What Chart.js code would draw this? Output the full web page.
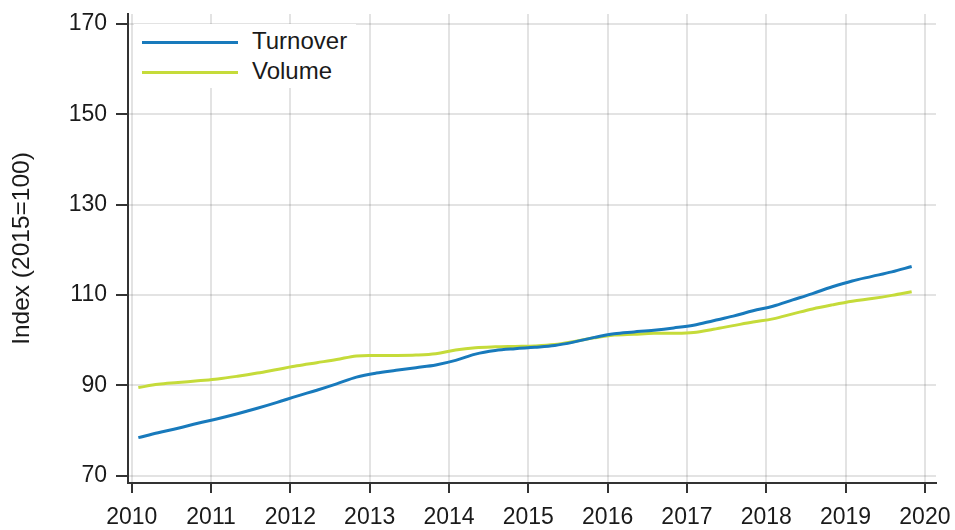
<!DOCTYPE html>
<html>
<head>
<meta charset="utf-8">
<script src="https://cdn.jsdelivr.net/npm/chart.js@4.4.1/dist/chart.umd.min.js"></script>
<style>
  body { margin: 0; background: #fff; }
  #wrap { position: relative; width: 955px; height: 530px; }
  #legend {
    position: absolute; left: 134px; top: 24px; width: 222px; height: 64px;
    background: #fff; font-family: "Liberation Sans", Arial, sans-serif; font-size: 24px; color: #1a1a1a;
  }
  .item { position: absolute; left: 8px; height: 30px; line-height: 30px; white-space: nowrap; }
  .item span.sw { display: inline-block; width: 96px; height: 3px; vertical-align: middle; margin-right: 14px; }
</style>
</head>
<body>
<div id="wrap">
  <canvas id="myChart" width="955" height="530"></canvas>
  <div id="legend"></div>
</div>
<script>
// quarterly data, 2010 Q1 .. 2019 Q4
var years = [2010, 2011, 2012, 2013, 2014, 2015, 2016, 2017, 2018, 2019];
var quarters = [1, 2, 3, 4];
var turnover = [
    78.4, 79.5, 80.5, 81.6,
    82.6, 83.7, 84.9, 86.2,
    87.6, 88.9, 90.3, 91.8,
    92.7, 93.3, 93.9, 94.5,
    95.5, 96.9, 97.7, 98.1,
    98.4, 98.8, 99.6, 100.6,
    101.4, 101.8, 102.2, 102.7,
    103.3, 104.3, 105.3, 106.5,
    107.5, 108.9, 110.3, 111.8,
    113.1, 114.1, 115.1, 116.3
];
var volume = [
    89.5, 90.2, 90.6, 91.0,
    91.4, 92.0, 92.7, 93.5,
    94.3, 95.0, 95.7, 96.5,
    96.6, 96.6, 96.7, 97.0,
    97.8, 98.3, 98.5, 98.6,
    98.7, 99.0, 99.7, 100.5,
    101.1, 101.3, 101.5, 101.5,
    101.7, 102.4, 103.2, 104.0,
    104.7, 105.8, 106.9, 107.8,
    108.6, 109.2, 109.9, 110.7
];
var xTicks = [2010, 2011, 2012, 2013, 2014, 2015, 2016, 2017, 2018, 2019, 2020];
var yTicks = [70, 90, 110, 130, 150, 170];
var seriesNames = ["Turnover", "Volume"];
var seriesColors = ["rgb(24,122,188)", "rgb(197,219,58)"];

var fontFam = "'Liberation Sans', Arial, sans-serif";
Chart.defaults.font.family = fontFam;
Chart.defaults.color = "#1a1a1a";

// x position of each quarter
var xs = [];
years.forEach(function (y) {
    quarters.forEach(function (q) {
        xs.push(y + (q - 1) / 4 + 1 / 12);
    });
});

function toPoints(arr) {
    return arr.map(function (v, i) { return { x: xs[i], y: v }; });
}

var allSeries = [turnover, volume];
var datasets = allSeries.map(function (arr, i) {
    return {
        label: seriesNames[i],
        data: toPoints(arr),
        borderColor: seriesColors[i],
        backgroundColor: seriesColors[i],
        borderWidth: 3,
        pointRadius: 0,
        tension: 0.35,
        fill: false
    };
});

var ctx = document.getElementById('myChart').getContext('2d');
var myChart = new Chart(ctx, {
    type: 'line',
    data: { datasets: datasets },
    options: {
        responsive: false,
        animation: false,
        layout: { padding: { top: 14, right: 19, left: 0, bottom: 0 } },
        plugins: { legend: { display: false }, tooltip: { enabled: false } },
        scales: {
            x: {
                type: 'linear',
                min: 2009.953,
                max: 2020.14,
                afterBuildTicks: function (scale) {
                    scale.ticks = xTicks.map(function (v) { return { value: v }; });
                },
                afterFit: function (scale) {
                    scale.height = 530 - 483;
                    scale.paddingLeft = 0;
                    scale.paddingRight = 0;
                },
                ticks: { font: { size: 23 }, color: "#1a1a1a", padding: 11, maxRotation: 0, autoSkip: false,
                    callback: function (v) { return String(v); } },
                grid: { color: "rgba(0,0,0,0.11)", lineWidth: 2, tickColor: "#333", tickLength: 10, tickWidth: 2 },
                border: { color: "#333", width: 2 }
            },
            y: {
                min: 68.36,
                max: 172.2,
                afterBuildTicks: function (scale) {
                    scale.ticks = yTicks.map(function (v) { return { value: v }; });
                },
                afterFit: function (scale) {
                    scale.width = 128;
                    scale.paddingTop = 0;
                    scale.paddingBottom = 0;
                },
                ticks: { font: { size: 23 }, color: "#1a1a1a", padding: 9 },
                grid: { color: "rgba(0,0,0,0.11)", lineWidth: 2, tickColor: "#333", tickLength: 12, tickWidth: 2 },
                border: { color: "#333", width: 2 },
                title: { display: true, text: "Index (2015=100)", font: { size: 24.5 }, color: "#1a1a1a", padding: { top: 8, bottom: 0 } }
            }
        }
    }
});

// legend inside the plot, top left
var legendEl = document.getElementById('legend');
seriesNames.forEach(function (name, i) {
    var d = document.createElement('div');
    d.className = 'item';
    d.style.top = (2 + i * 30) + 'px';
    d.innerHTML = '<span class="sw" style="background:' + seriesColors[i] + '"></span>' + name;
    legendEl.appendChild(d);
});
</script>
</body>
</html>
